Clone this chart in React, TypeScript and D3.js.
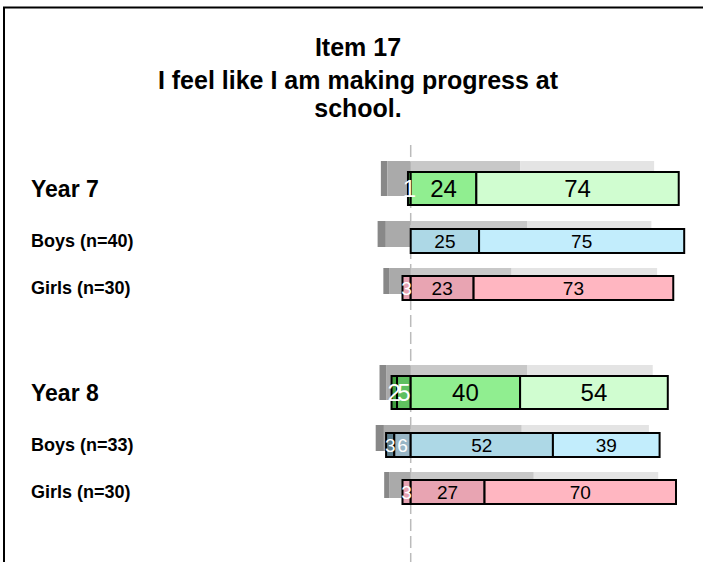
import React from "react";
import * as d3 from "d3";

const W = 703;
const H = 562;

const titleLines = ["Item 17", "I feel like I am making progress at", "school."];

const rowKeys = ["y7", "b7", "g7", "gap", "y8", "b8", "g8"];
const rowLabels = ["Year 7", "Boys (n=40)", "Girls (n=30)", "", "Year 8", "Boys (n=33)", "Girls (n=30)"];
const rowKinds = ["year", "boys", "girls", "gap", "year", "boys", "girls"];
const rowWeights = [58, 47, 47, 52, 58, 47, 47];

// Responses: strongly disagree, disagree, agree, strongly agree
const stronglyDisagree = [0, 0, 0, null, 2, 3, 0];
const disagree = [1, 0, 3, null, 5, 6, 3];
const agree = [24, 25, 23, null, 40, 52, 27];
const stronglyAgree = [74, 75, 73, null, 54, 39, 70];

// Comparison (grey) bars
const cmpStronglyDisagree = [2.4, 3, 2.3, null, 2.6, 3, 1.8];
const cmpDisagree = [8.5, 9.1, 7.7, null, 8.8, 9.8, 7.9];
const cmpAgree = [40, 42.7, 36.9, null, 42.7, 40.6, 45];
const cmpStronglyAgree = [49, 45.3, 53.2, null, 45.8, 46.5, 45.5];

const palette: Record<string, string[]> = {
  year: ["#3f9e3f", "#5fc05f", "#90ee90", "#d0fdd0"],
  boys: ["#5c7d8c", "#98b6c6", "#add8e6", "#c2edfc"],
  girls: ["#d88898", "#e6a2b2", "#e8a4b2", "#ffb6c1"],
};
const greys = ["#888888", "#aaaaaa", "#c8c8c8", "#e4e4e4"];

export default function App() {
  const x = d3.scaleLinear().domain([0, 100]).range([410.7, 684.2]);
  const cum = [0, ...Array.from(d3.cumsum(rowWeights))];
  const total = cum[cum.length - 1];
  const yu = d3.scaleLinear().domain([0, total]).range([159.5, 515.5]);

  const rows = rowKeys.map((k, i) => {
    if (rowKinds[i] === "gap") return null;
    const isYear = rowKinds[i] === "year";
    const cy = (yu(cum[i]) + yu(cum[i + 1])) / 2;
    const h = isYear ? 33 : 24;
    const off = isYear ? 11 : 8;
    const top = cy - h / 2;
    const sd = stronglyDisagree[i] as number;
    const d = disagree[i] as number;
    const a = agree[i] as number;
    const sa = stronglyAgree[i] as number;
    const segs = [
      { v: sd, x0: -(sd + d), x1: -d, c: palette[rowKinds[i]][0], neg: true },
      { v: d, x0: -d, x1: 0, c: palette[rowKinds[i]][1], neg: true },
      { v: a, x0: 0, x1: a, c: palette[rowKinds[i]][2], neg: false },
      { v: sa, x0: a, x1: a + sa, c: palette[rowKinds[i]][3], neg: false },
    ];
    const csd = cmpStronglyDisagree[i] as number;
    const cd = cmpDisagree[i] as number;
    const ca = cmpAgree[i] as number;
    const csa = cmpStronglyAgree[i] as number;
    const gsegs = [
      { x0: -(csd + cd), x1: -cd, c: greys[0] },
      { x0: -cd, x1: 0, c: greys[1] },
      { x0: 0, x1: ca, c: greys[2] },
      { x0: ca, x1: ca + csa, c: greys[3] },
    ];
    return { k, i, isYear, cy, h, off, top, segs, gsegs };
  });

  const fontFam = "'Liberation Sans', Arial, Helvetica, sans-serif";

  return (
    <svg width={W} height={H} style={{ display: "block", position: "absolute", left: 0, top: 0 }}>
      <rect x={0} y={0} width={W} height={H} fill="#ffffff" />
      <rect x={4} y={7.5} width={W + 20} height={H + 20} fill="none" stroke="#000" strokeWidth={2} />
      {titleLines.map((t, i) => (
        <text
          key={i}
          x={358}
          y={[56, 88.5, 116.5][i]}
          textAnchor="middle"
          fontFamily={fontFam}
          fontWeight="bold"
          fontSize={25}
          fill="#000"
        >
          {t}
        </text>
      ))}
      <line x1={x(0)} x2={x(0)} y1={145} y2={H} stroke="#bbbbbb" strokeWidth={1.5} strokeDasharray="12,5" />
      {rows.map((r) =>
        r ? (
          <g key={r.k}>
            {r.gsegs.map((g, j) => (
              <rect
                key={"g" + j}
                x={x(g.x0)}
                y={r.top - r.off}
                width={Math.max(0, x(g.x1) - x(g.x0))}
                height={r.h + 2}
                fill={g.c}
              />
            ))}
            {r.segs.map((s, j) =>
              s.v > 0 ? (
                <rect
                  key={"s" + j}
                  x={x(s.x0)}
                  y={r.top}
                  width={x(s.x1) - x(s.x0)}
                  height={r.h}
                  fill={s.c}
                  stroke="#000"
                  strokeWidth={2}
                />
              ) : null
            )}
            {r.segs.map((s, j) =>
              s.v > 0 ? (
                <text
                  key={"t" + j}
                  x={(x(s.x0) + x(s.x1)) / 2}
                  y={r.cy}
                  dy="0.36em"
                  textAnchor="middle"
                  fontFamily={fontFam}
                  fontSize={r.isYear ? 24 : 19}
                  fill={s.neg ? "#ffffff" : "#000000"}
                >
                  {s.v}
                </text>
              ) : null
            )}
            <text
              x={31}
              y={r.cy}
              dy="0.36em"
              fontFamily={fontFam}
              fontWeight="bold"
              fontSize={r.isYear ? 23 : 18}
              fill="#000"
            >
              {rowLabels[r.i]}
            </text>
          </g>
        ) : null
      )}
    </svg>
  );
}
